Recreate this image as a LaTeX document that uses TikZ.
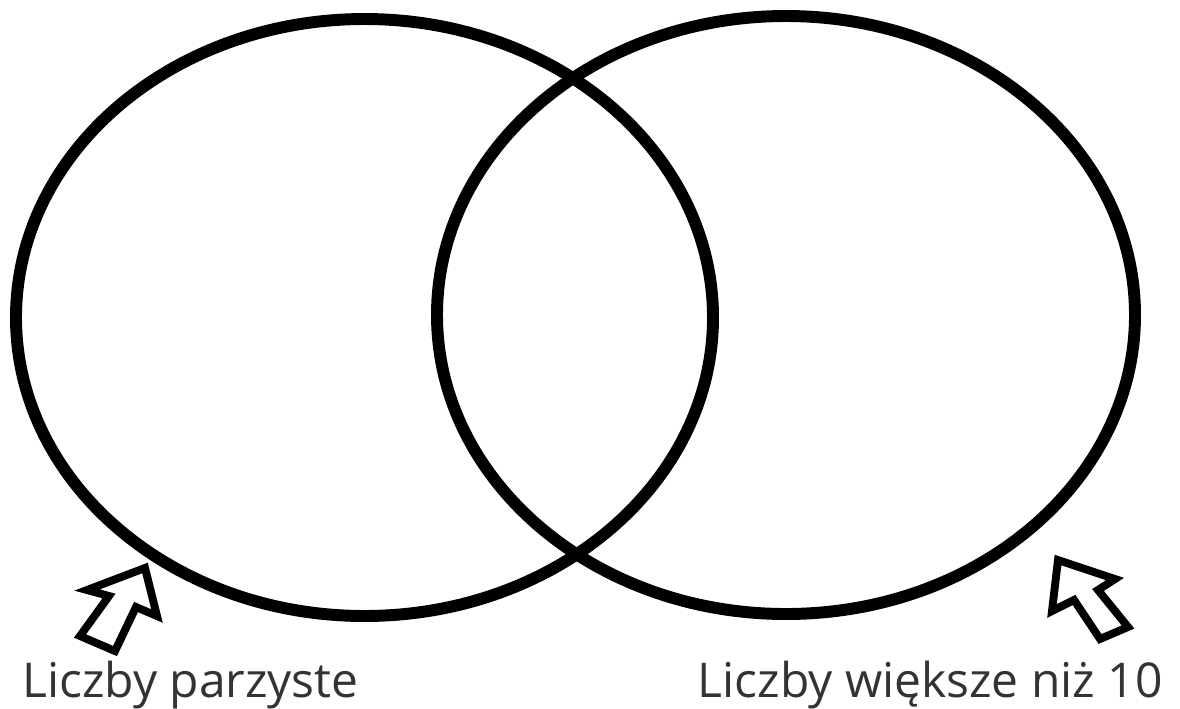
\documentclass[tikz,border=0pt]{standalone}
\usepackage{fontspec}
\setmainfont{Open Sans}
\usepackage{tikz}

\begin{document}
\begin{tikzpicture}[x=0.02cm, y=-0.02cm,
	set/.style={line width=6.8pt},
	hollowarrow/.style={line width=4.5pt, line join=miter},
	setname/.style={inner sep=0pt, color=black!80, font=\fontsize{27.3}{32}\selectfont}]
	\useasboundingbox (0,0) rectangle (1180,708);
	\coordinate (L) at (364.5,317.5);
	\coordinate (R) at (786,315);
	% the two sets
	\draw[set] (L) ellipse [x radius=348.5, y radius=298.5];
	\draw[set] (R) ellipse [x radius=349, y radius=299];
	% arrow pointing at the left set
	\draw[hollowarrow] (145,568) -- (157,616) -- (136,607) -- (115,651)
		-- (80,636) -- (109,596) -- (87,590) -- cycle;
	% arrow pointing at the right set
	\draw[hollowarrow] (1058,560) -- (1115,579) -- (1098,590) -- (1128,627)
		-- (1100,639) -- (1074,600) -- (1052,611) -- cycle;
	\node[setname, anchor=base west] (even) at (22,697) {Liczby parzyste};
	\node[setname, anchor=base east] (big) at (1163,697) {Liczby większe niż 10};
\end{tikzpicture}
\end{document}
